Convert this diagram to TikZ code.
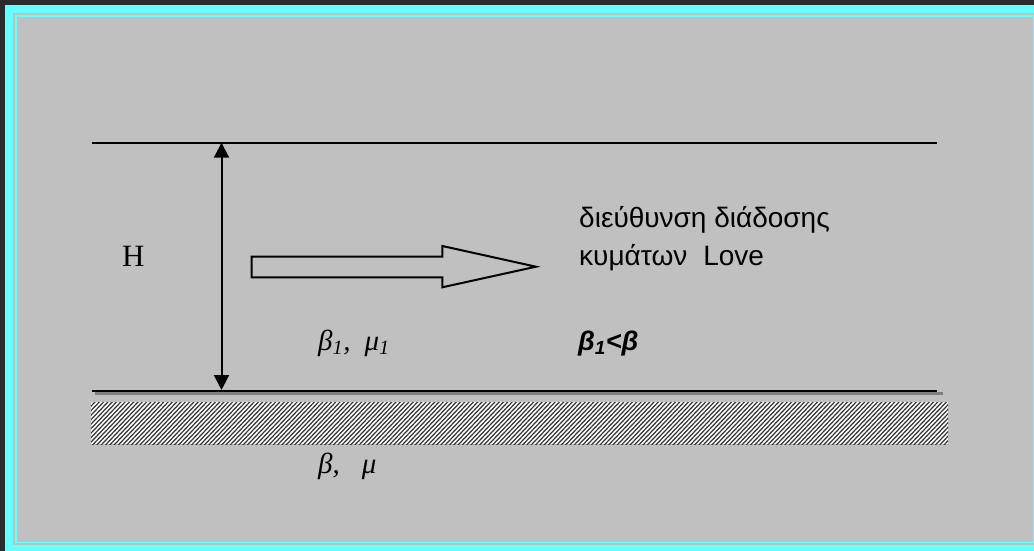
\documentclass[tikz,border=0pt]{standalone}
\usepackage{fontspec}
\setmainfont{Liberation Serif}
\newfontfamily\arialfont{Liberation Sans}
\usetikzlibrary{arrows.meta}
\definecolor{framecyan}{HTML}{66FFFF}
\definecolor{panel}{HTML}{C0C0C0}
\definecolor{outerbg}{HTML}{2B2B2B}
\definecolor{shadowgray}{HTML}{808080}
\begin{document}
\begin{tikzpicture}[x=1pt,y=-1pt,
  layerline/.style={line width=2pt,black},
  dimarrow/.style={line width=2pt,{Triangle[length=15pt,width=15pt]}-{Triangle[length=15pt,width=15pt]}},
  blockarrow/.style={line width=2pt,black,line join=miter},
  greektext/.style={font=\arialfont\fontsize{28}{32}\selectfont,anchor=base west,inner sep=0pt},
  serifsym/.style={font=\fontsize{29}{32}\selectfont\itshape,anchor=base west,inner sep=0pt},
  boldsym/.style={font=\arialfont\fontsize{27}{30}\selectfont\bfseries\itshape,anchor=base west,inner sep=0pt}]
\useasboundingbox (0,0) rectangle (1034,551);
% frame
\fill[outerbg] (0,0) rectangle (1034,551);
\fill[framecyan] (5,5) rectangle (1034,551);
\fill[panel] (13.3,13.3) rectangle (1034,545);
\fill[framecyan] (15,15) rectangle (1034,543.3);
\fill[panel] (17.3,17.3) rectangle (1032.5,541.7);
% layer boundaries
\coordinate (topL) at (91.7,142.7);
\coordinate (topR) at (936.7,142.7);
\coordinate (botL) at (91.7,391);
\coordinate (botR) at (936.7,391);
\draw[shadowgray,line width=2.4pt] (95,393.5) -- (943,393.5);
\draw[layerline] (topL) -- (topR);
\draw[layerline] (botL) -- (botR);
% hatched half-space
\begin{scope}
  \clip (91,402) rectangle (948,444);
  \fill[white] (91,402) rectangle (948,444);
  \foreach \x in {40,44.3,...,960}
    \draw[black!80,line width=1.2pt] (\x,446) -- (\x+44,402-2);
\end{scope}
% thickness arrow
\coordinate (hTop) at (221.5,142.7);
\coordinate (hBot) at (221.5,390);
\draw[dimarrow] (hTop) -- (hBot);
% block arrow
\draw[blockarrow] (251.7,256.7) -- (442.3,256.7) -- (442.3,246) -- (536,266.7)
  -- (442.3,287.3) -- (442.3,277.3) -- (251.7,277.3) -- cycle;
% labels
\node[anchor=base west,inner sep=0pt,font=\fontsize{31}{36}\selectfont] (H) at (122,266) {H};
\node[greektext] (dir1) at (579,227) {διεύθυνση διάδοσης};
\node[greektext] (dir2) at (579,265) {κυμάτων\hspace{16pt}Love};
\node[serifsym] (upper) at (318,350) {β\textsubscript{1},\hspace{14pt}μ\textsubscript{1}};
\node[boldsym] (cond) at (578,350) {β\textsubscript{1}<β};
\node[serifsym] (lower) at (318,473) {β,\hspace{22pt}μ};
\end{tikzpicture}
\end{document}
